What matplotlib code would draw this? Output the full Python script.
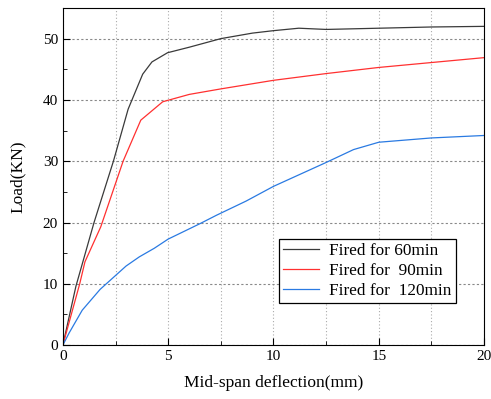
import numpy as np
import matplotlib.pyplot as plt
from matplotlib.ticker import MultipleLocator

plt.rcParams['font.family'] = ['Liberation Serif', 'DejaVu Serif']

# Load-deflection data
x_60 = [0, 0.62, 1.48, 2.4, 3.1, 3.79, 4.23, 4.97, 6.0, 7.5, 9.0, 10.0, 11.2, 12.5, 15.0, 17.5, 20.0]
y_60 = [0, 9.6, 20.0, 30.0, 38.5, 44.2, 46.2, 47.7, 48.6, 50.0, 50.9, 51.3, 51.7, 51.5, 51.7, 51.9, 52.0]

x_90 = [0, 0.8, 1.05, 1.8, 2.86, 3.7, 4.74, 6.0, 7.5, 10.0, 12.5, 15.0, 17.5, 20.0]
y_90 = [0, 10.0, 13.6, 19.3, 30.0, 36.7, 39.7, 40.9, 41.8, 43.2, 44.3, 45.3, 46.1, 46.9]

x_120 = [0, 0.3, 0.92, 1.77, 3.0, 3.63, 4.34, 5.0, 6.5, 7.3, 8.7, 10.0, 12.5, 13.8, 15.0, 17.5, 20.0]
y_120 = [0, 2.0, 5.7, 9.1, 12.9, 14.4, 15.8, 17.3, 19.8, 21.2, 23.5, 25.9, 29.8, 31.9, 33.1, 33.8, 34.2]

labels = ["Fired for 60min", "Fired for  90min", "Fired for  120min"]

fig = plt.figure(figsize=(4.91, 3.99), dpi=100)
ax = fig.add_axes([0.128, 0.135, 0.858, 0.845])

ax.plot(x_60, y_60, color='#3a3a3a', lw=0.9, label=labels[0])
ax.plot(x_90, y_90, color='#ff3030', lw=0.9, label=labels[1])
ax.plot(x_120, y_120, color='#2a7ae2', lw=0.9, label=labels[2])

ax.set_xlim(0, 20)
ax.set_ylim(0, 55)
ax.xaxis.set_major_locator(MultipleLocator(5))
ax.xaxis.set_minor_locator(MultipleLocator(2.5))
ax.yaxis.set_major_locator(MultipleLocator(10))
ax.yaxis.set_minor_locator(MultipleLocator(5))
ax.tick_params(which='both', direction='in', labelsize=11, top=False, right=False)
ax.tick_params(which='major', length=5)
ax.tick_params(which='minor', length=3)

# grid: dotted verticals at every 2.5, dashed horizontals at every 10
ax.grid(True, axis='x', which='both', color='#aaaaaa', linestyle=(0, (1, 2)), lw=0.8)
ax.grid(True, axis='y', which='major', color='#888888', linestyle=(0, (2, 2)), lw=0.8)

ax.set_xlabel("Mid-span deflection(mm)", fontsize=12.5, labelpad=9)
ax.set_ylabel("Load(KN)", fontsize=12.5, labelpad=12)

leg = ax.legend(loc='lower left', bbox_to_anchor=(0.513, 0.125), fontsize=12.4,
                fancybox=False, edgecolor='black', framealpha=1,
                handlelength=2.1, handletextpad=0.55, borderpad=0.25,
                borderaxespad=0, labelspacing=0.22)
leg.get_frame().set_linewidth(0.9)

plt.savefig('out.png', dpi=100)
